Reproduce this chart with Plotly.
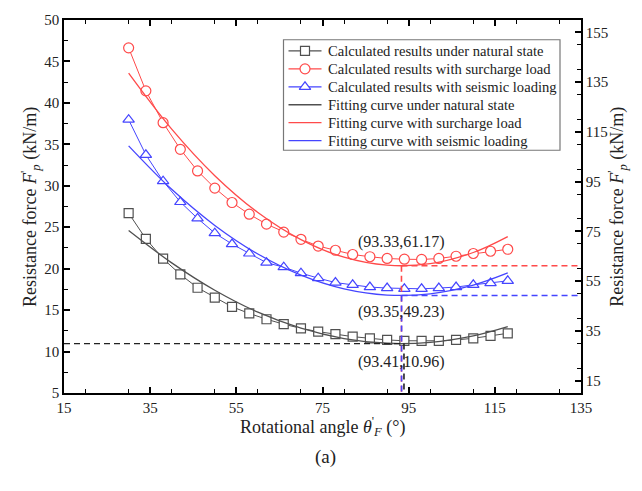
import plotly.graph_objects as go

# ---- data ----
angle = [30, 34, 38, 42, 46, 50, 54, 58, 62, 66, 70, 74, 78, 82, 86, 90, 94, 98, 102, 106, 110, 114, 118]
natural = [26.7, 23.6, 21.2, 19.3, 17.7, 16.5, 15.4, 14.6, 13.9, 13.3, 12.8, 12.4, 12.1, 11.8, 11.6, 11.4,
           11.3, 11.3, 11.3, 11.4, 11.6, 11.9, 12.2]
surcharge = [148.8, 131.5, 118.7, 108.0, 99.3, 92.4, 86.6, 81.9, 77.9, 74.7, 71.8, 69.1, 67.4, 65.7, 64.8,
             64.1, 63.8, 63.7, 64.1, 65.0, 66.1, 67.0, 67.8]
seismic = [119.9, 105.8, 95.2, 86.8, 80.2, 74.3, 69.9, 66.1, 62.4, 60.6, 58.2, 56.2, 54.4, 53.5, 52.6,
           52.2, 51.9, 51.9, 52.2, 52.6, 53.5, 54.2, 55.1]

fit_angle = [30, 40, 50, 60, 70, 80, 90, 100, 110, 118]
fit_natural = [24.6, 20.7, 17.4, 14.75, 12.82, 11.57, 11.0, 11.11, 11.9, 13.02]
fit_surcharge = [138.6, 116.1, 97.4, 82.6, 71.7, 64.6, 61.4, 62.0, 66.5, 72.9]
fit_seismic = [109.4, 91.9, 77.4, 65.9, 57.4, 51.9, 49.4, 49.9, 53.4, 58.3]

min_x = [93.41, 93.33, 93.35]
min_y = [10.96, 61.17, 49.23]
min_labels = ["(93.41,10.96)", "(93.33,61.17)", "(93.35,49.23)"]

legend_names = [
    "Calculated results under natural state",
    "Calculated results with surcharge load",
    "Calculated results with seismic loading",
    "Fitting curve under natural state",
    "Fitting curve with surcharge load",
    "Fitting curve with seismic loading",
]

x_range = [15, 135]
y_range = [5, 50]
y2_range = [10, 160]

BLACK = "#505050"
RED = "#ff4a4a"
BLUE = "#4545ff"
FONT = "Times New Roman, Liberation Serif, DejaVu Serif, serif"
colors = [BLACK, RED, BLUE, BLACK, RED, BLUE]
symbols = ["square", "circle", "triangle-up"]
msizes = [9, 10, 10]

fig = go.Figure()

def calc(name, y, color, symbol, axis, size):
    fig.add_trace(go.Scatter(
        x=angle, y=y, name=name, mode="lines+markers", yaxis=axis, showlegend=False,
        line=dict(color=color, width=1),
        marker=dict(symbol=symbol, size=size, color="white", line=dict(color=color, width=1.2)),
    ))

def fit(name, y, color, axis):
    fig.add_trace(go.Scatter(
        x=fit_angle, y=y, name=name, mode="lines", yaxis=axis, showlegend=False,
        line=dict(color=color, width=1.3, shape="spline"),
    ))

calc(legend_names[0], natural, BLACK, symbols[0], "y", msizes[0])
calc(legend_names[1], surcharge, RED, symbols[1], "y2", msizes[1])
calc(legend_names[2], seismic, BLUE, symbols[2], "y2", msizes[2])
fit(legend_names[3], fit_natural, BLACK, "y")
fit(legend_names[4], fit_surcharge, RED, "y2")
fit(legend_names[5], fit_seismic, BLUE, "y2")

# guide lines
dash = "6px,4px"
fig.add_trace(go.Scatter(x=[x_range[0], min_x[0]], y=[min_y[0], min_y[0]], mode="lines", yaxis="y",
                         line=dict(color="#222", width=1.4, dash=dash), showlegend=False))
fig.add_trace(go.Scatter(x=[min_x[0] + 0.5, min_x[0] + 0.5], y=[min_y[0], y_range[0]], mode="lines", yaxis="y",
                         line=dict(color="#222", width=1.6, dash=dash), showlegend=False))
for i, c in [(1, RED), (2, BLUE)]:
    fig.add_trace(go.Scatter(x=[min_x[i], x_range[1]], y=[min_y[i], min_y[i]], mode="lines", yaxis="y2",
                             line=dict(color=c, width=1.6, dash=dash), showlegend=False))
    fig.add_trace(go.Scatter(x=[min_x[i], min_x[i]], y=[min_y[i], y2_range[0]], mode="lines", yaxis="y2",
                             line=dict(color=c, width=1.6, dash=dash), showlegend=False))

# ---- custom legend (pixel layout converted to paper coords) ----
W, H, ML, MT = 642, 491, 64, 15
PW, PH = W - ML - 61, H - MT - 98
def px(xp):
    return (xp - ML) / PW
def py(yp):
    return (MT + PH - yp) / PH

box = (283.5, 35, 560, 147)
row0, row_step = 46.3, 18.2
sym_x0, sym_x1, text_x = 288.5, 321.5, 325.5

shapes = [dict(type="rect", xref="paper", yref="paper", x0=px(box[0]), x1=px(box[2]),
               y0=py(box[3]), y1=py(box[1]), line=dict(color="#777", width=1.2), fillcolor="white",
               layer="below")]
ann = []
for k, name in enumerate(legend_names):
    yc = row0 + k * row_step
    fig.add_trace(go.Scatter(x=[px(sym_x0), px(sym_x1)], y=[py(yc), py(yc)], xaxis="x3", yaxis="y3",
                             mode="lines", showlegend=False, hoverinfo="skip",
                             line=dict(color=colors[k], width=1.3)))
    ann.append(dict(x=px(text_x), y=py(yc), xref="paper", yref="paper", xanchor="left", yanchor="middle",
                    text=name, showarrow=False, font=dict(family=FONT, size=14.6, color="#222")))
for k in range(3):
    yc = row0 + k * row_step
    fig.add_trace(go.Scatter(x=[px((sym_x0 + sym_x1) / 2)], y=[py(yc)], xaxis="x3", yaxis="y3",
                             mode="markers", showlegend=False, hoverinfo="skip",
                             marker=dict(symbol=symbols[k], size=msizes[k], color="white",
                                         line=dict(color=colors[k], width=1.2))))

axis_common = dict(showline=True, linecolor="black", linewidth=1.5, ticks="inside", ticklen=6,
                   tickwidth=1.5, tickcolor="black", showgrid=False, zeroline=False,
                   tickfont=dict(family=FONT, size=15, color="#222"))

fig.update_layout(
    width=W, height=H,
    margin=dict(l=ML, r=61, t=MT, b=98),
    paper_bgcolor="white", plot_bgcolor="white",
    font=dict(family=FONT, color="#222"),
    xaxis=dict(range=x_range, tick0=15, dtick=20, mirror="ticks",
               minor=dict(ticks="inside", dtick=10, ticklen=4, tickwidth=1.2, tickcolor="black"),
               **axis_common),
    yaxis=dict(range=y_range, tick0=5, dtick=5,
               minor=dict(ticks="inside", dtick=2.5, ticklen=4, tickwidth=1.2, tickcolor="black"),
               **axis_common),
    yaxis2=dict(range=y2_range, tick0=15, dtick=20, overlaying="y", side="right",
                minor=dict(ticks="inside", dtick=10, ticklen=4, tickwidth=1.2, tickcolor="black"),
                **axis_common),
    xaxis3=dict(range=[0, 1], overlaying="x", visible=False, anchor="y3"),
    yaxis3=dict(range=[0, 1], overlaying="y", visible=False, anchor="x3"),
    showlegend=False,
    shapes=shapes,
)

for i in range(3):
    ann.append(dict(x=min_x[i], y=min_y[i], xref="x", yref="y" if i == 0 else "y2",
                    text=min_labels[i], showarrow=False, font=dict(family=FONT, size=16, color="#222"),
                    yshift=[-18, 24, -17][i]))

ann += [
    dict(x=0.5, y=-0.089, xref="paper", yref="paper", yanchor="middle", showarrow=False,
         text="Rotational angle <i>θ</i><sup>'</sup><sub><i>F</i></sub> (°)",
         font=dict(family=FONT, size=18, color="#222")),
    dict(x=0.505, y=-0.172, xref="paper", yref="paper", yanchor="middle", showarrow=False,
         text="(a)", font=dict(family=FONT, size=19, color="#222")),
    dict(x=-0.065, y=0.5, xref="paper", yref="paper", xanchor="center", showarrow=False, textangle=-90,
         text="Resistance force <i>F</i><sup>'</sup><sub><i>p</i></sub> (kN/m)",
         font=dict(family=FONT, size=18, color="#222")),
    dict(x=1.07, y=0.5, xref="paper", yref="paper", xanchor="center", showarrow=False, textangle=-90,
         text="Resistance force <i>F</i><sup>'</sup><sub><i>p</i></sub> (kN/m)",
         font=dict(family=FONT, size=18, color="#222")),
]
fig.update_layout(annotations=ann)

fig.write_html("out.html")
